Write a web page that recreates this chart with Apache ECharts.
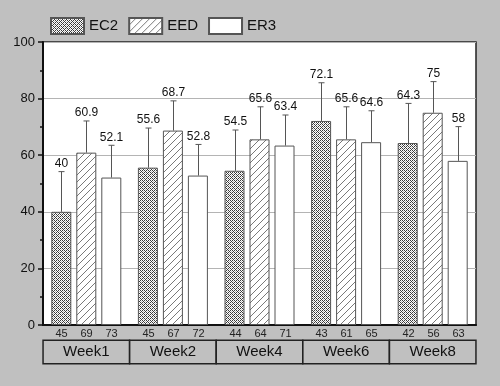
<!DOCTYPE html>
<html><head><meta charset="utf-8">
<script src="https://cdn.jsdelivr.net/npm/echarts@6/dist/echarts.min.js"></script>
<style>html,body{margin:0;padding:0;background:#c0c0c0}#c{width:500px;height:386px}</style>
</head><body><div id="c"></div>
<script>
var categories = ['Week1','Week2','Week4','Week6','Week8'];
var seriesNames = ['EC2','EED','ER3'];
var ec2 = [40, 55.6, 54.5, 72.1, 64.3];
var eed = [60.9, 68.7, 65.6, 65.6, 75];
var er3 = [52.1, 52.8, 63.4, 64.6, 58];
var ec2Err = [14.2, 14, 14.4, 13.5, 14];
var eedErr = [11.2, 10.5, 11.5, 11.5, 11];
var er3Err = [11.4, 11, 10.8, 11.1, 12.1];
var ec2N = [45, 45, 44, 43, 42];
var eedN = [69, 67, 64, 61, 56];
var er3N = [73, 72, 71, 65, 63];
var yTicks = [0, 20, 40, 60, 80, 100];

function crossPattern(){
  var c = document.createElement('canvas'); c.width = 4; c.height = 4;
  var g = c.getContext('2d');
  g.fillStyle = '#ffffff'; g.fillRect(0,0,4,4);
  g.fillStyle = '#3a3a3a';
  for (var x=0;x<4;x++) for (var y=0;y<4;y++){
    if ((x+y)%2===0) g.fillRect(x,y,1,1);
  }
  g.fillStyle = '#b8b8b8';
  g.fillRect(1,1,1,1); g.fillRect(3,3,1,1);
  return c;
}
function hatchPattern(){
  var s = 7;
  var c = document.createElement('canvas'); c.width = s; c.height = s;
  var g = c.getContext('2d');
  g.fillStyle = '#ffffff'; g.fillRect(0,0,s,s);
  g.strokeStyle = '#6a6a6a'; g.lineWidth = 0.9;
  g.beginPath();
  g.moveTo(-1, s+1); g.lineTo(s+1, -1);
  g.moveTo(-1, 1); g.lineTo(1, -1);
  g.moveTo(s-1, s+1); g.lineTo(s+1, s-1);
  g.stroke();
  return c;
}
var fills = [
  {image: crossPattern(), repeat: 'repeat'},
  {image: hatchPattern(), repeat: 'repeat'},
  '#ffffff'
];
var vals = [ec2, eed, er3];
var errs = [ec2Err, eedErr, er3Err];
var ns = [ec2N, eedN, er3N];
var offsets = [-25, 0, 25];

var series = [];
seriesNames.forEach(function(name, k){
  series.push({
    name: name, type: 'bar', data: vals[k],
    barWidth: 20, barGap: '25%', barCategoryGap: '20%',
    itemStyle: {color: fills[k], borderColor: '#555', borderWidth: 1},
    z: 2
  });
});
seriesNames.forEach(function(name, k){
  series.push({
    type: 'custom', name: name + '_err', clip: false, z: 5, silent: true,
    data: categories.map(function(c, i){ return [i, vals[k][i], errs[k][i], ns[k][i]]; }),
    renderItem: function(params, api){
      var i = api.value(0), v = api.value(1), e = api.value(2), n = api.value(3);
      var base = api.coord([i, v]);
      var top = api.coord([i, v + e]);
      var zero = api.coord([i, 0]);
      var x = Math.round(base[0] + offsets[k]) + 0.5;
      return {type: 'group', children: [
        {type: 'line', shape: {x1: x, y1: base[1], x2: x, y2: top[1]}, style: {stroke: '#555', lineWidth: 1}},
        {type: 'line', shape: {x1: x - 3, y1: top[1], x2: x + 3, y2: top[1]}, style: {stroke: '#555', lineWidth: 1}},
        {type: 'text', x: x, y: top[1] - 2, style: {text: String(v), fill: '#111', font: '12px "Liberation Sans", Arial', align: 'center', verticalAlign: 'bottom'}},
        {type: 'text', x: x, y: zero[1] + 3, style: {text: String(n), fill: '#222', font: '11px "Liberation Sans", Arial', align: 'center', verticalAlign: 'top'}}
      ]};
    }
  });
});

var chart = echarts.init(document.getElementById('c'), null, {renderer: 'canvas'});
chart.setOption({
  backgroundColor: '#c0c0c0',
  animation: false,
  legend: {
    data: seriesNames, left: 45, top: 12, icon: 'rect',
    itemWidth: 33, itemHeight: 16, itemGap: 10,
    textStyle: {fontSize: 15, color: '#111', fontFamily: '"Liberation Sans", Arial'}
  },
  grid: {left: 43, right: 24, top: 42, bottom: 61, show: true, backgroundColor: '#ffffff', borderColor: '#222', borderWidth: 1.5},
  xAxis: {
    type: 'category', data: categories,
    axisLine: {lineStyle: {color: '#111', width: 2}},
    axisTick: {show: false},
    axisLabel: {
      margin: 16, interval: 0, color: '#111', fontSize: 15, fontFamily: '"Liberation Sans", Arial',
      width: 85, height: 22, lineHeight: 22, align: 'center', overflow: 'none',
      backgroundColor: '#c0c0c0', borderColor: '#222', borderWidth: 1.5
    }
  },
  yAxis: {
    type: 'value', min: yTicks[0], max: yTicks[yTicks.length-1], interval: 20,
    axisLine: {show: true, lineStyle: {color: '#111', width: 2}},
    axisTick: {show: true, length: 5, lineStyle: {color: '#111', width: 1.5}},
    minorTick: {show: true, splitNumber: 2, length: 3, lineStyle: {color: '#111', width: 1.5}},
    axisLabel: {color: '#111', fontSize: 13, margin: 8, fontFamily: '"Liberation Sans", Arial'},
    splitLine: {show: true, lineStyle: {color: '#b4b4b4', width: 1}}
  },
  series: series
});
</script></body></html>
